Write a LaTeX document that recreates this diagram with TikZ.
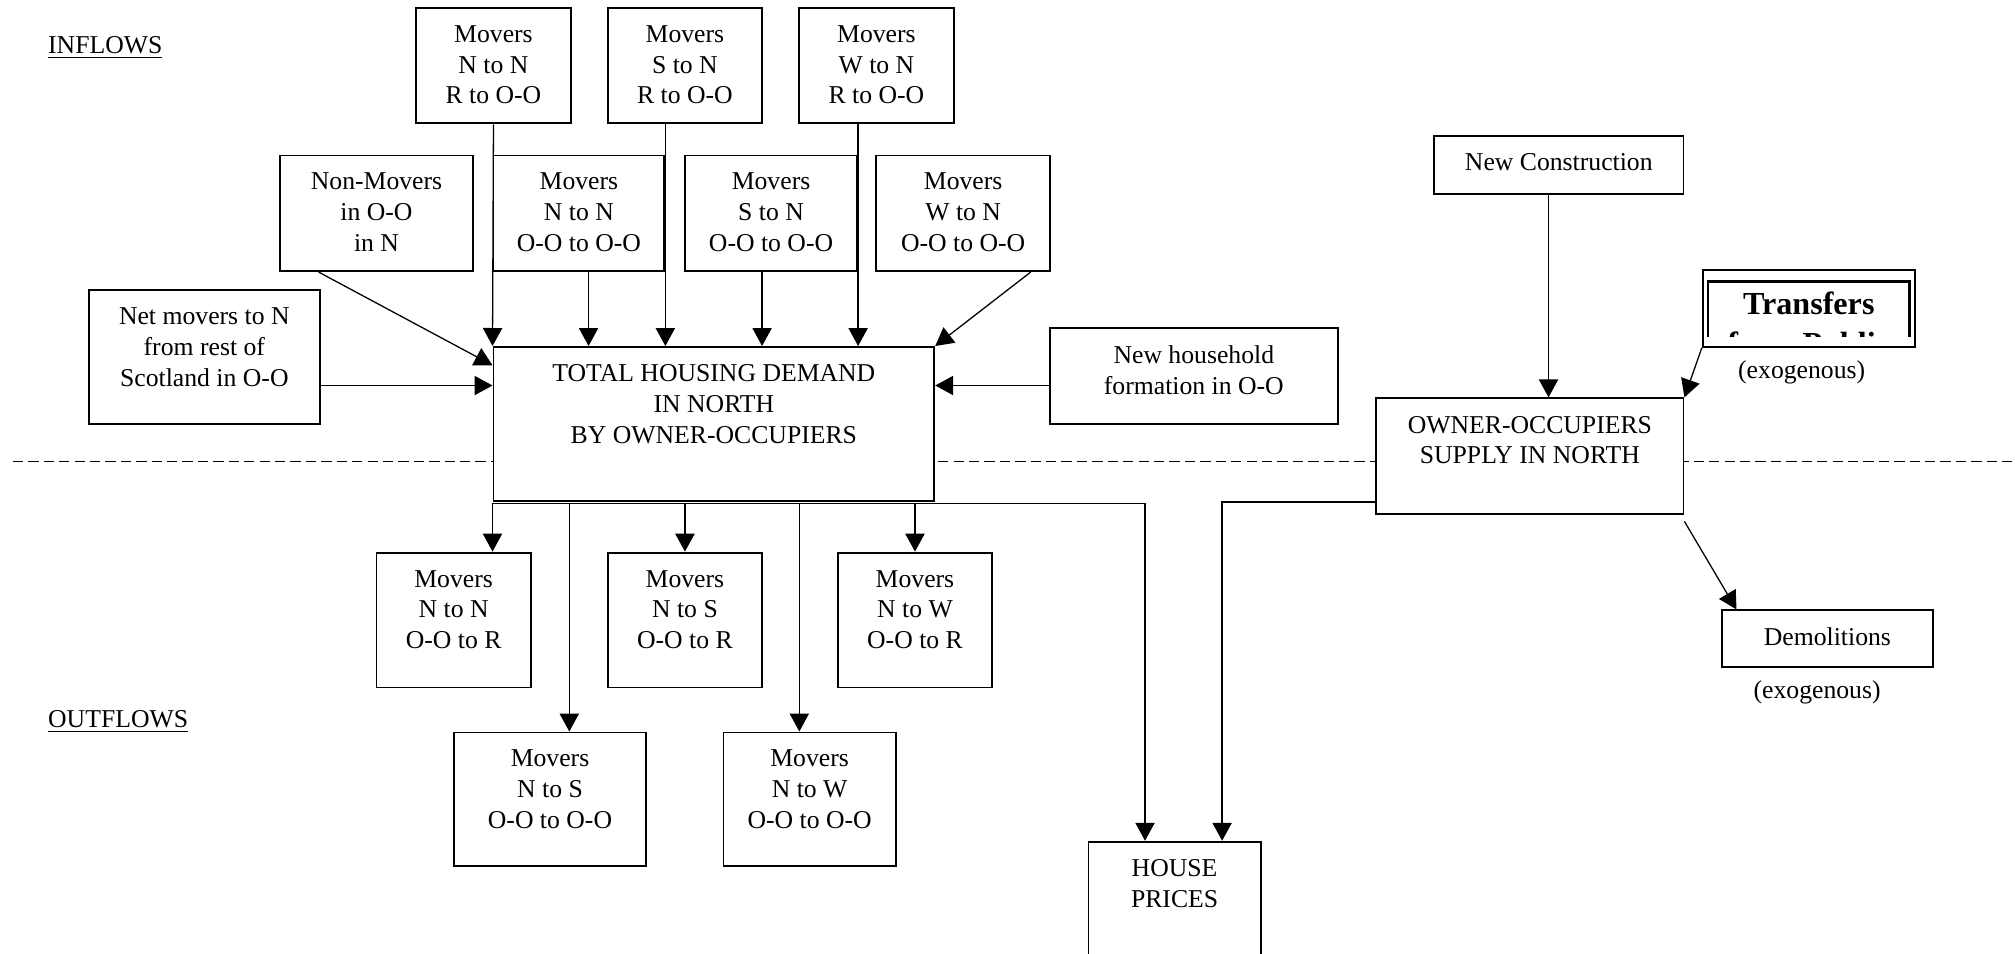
\documentclass[tikz,border=0pt]{standalone}
\usepackage{fontspec}
\setmainfont{Liberation Serif}
\usetikzlibrary{arrows.meta,positioning}

\begin{document}
\begin{tikzpicture}[x=0.5pt, y=-0.5pt, line width=0.5pt,
    >={Triangle[length=7pt,width=7.5pt]},
    box/.style={draw, fill=white, line width=0.75pt, inner sep=0pt},
    intext/.style={anchor=north, align=center, inner sep=0pt, yshift=-7pt}]
  \useasboundingbox (0,0) rectangle (1568,742);
  \clip (0,0) rectangle (1568,742);

  % dividing line between inflows and outflows
  \draw[dash pattern=on 4pt off 2pt] (10,359) -- (1566,359);

  \node[anchor=base west, inner sep=0pt] (inflows) at (37,41.5) {\underline{INFLOWS}};
  \node[anchor=base west, inner sep=0pt] (outflows) at (37,566.5) {\underline{OUTFLOWS}};

  % inflows
  \node[box, minimum width=60pt, minimum height=45pt, label={[intext]north:Movers\\N to N\\R to O-O}] (inNNr) at (384,51) {};
  \node[box, minimum width=60pt, minimum height=45pt, label={[intext]north:Movers\\S to N\\R to O-O}] (inSNr) at (533,51) {};
  \node[box, minimum width=60pt, minimum height=45pt, label={[intext]north:Movers\\W to N\\R to O-O}] (inWNr) at (682,51) {};

  \node[box, minimum width=75pt, minimum height=45pt, label={[intext]north:Non-Movers\\in O-O\\in N}] (nonmov) at (293,166) {};
  \node[box, minimum width=66.5pt, minimum height=45pt, label={[intext]north:Movers\\N to N\\O-O to O-O}] (inNNo) at (450.5,166) {};
  \node[box, minimum width=67pt, minimum height=45pt, label={[intext]north:Movers\\S to N\\O-O to O-O}] (inSNo) at (600,166) {};
  \node[box, minimum width=67.5pt, minimum height=45pt, label={[intext]north:Movers\\W to N\\O-O to O-O}] (inWNo) at (749.5,166) {};

  \node[box, minimum width=90pt, minimum height=52pt, label={[intext]north:Net movers to N\\from rest of\\Scotland in O-O}] (net) at (159,278) {};
  \node[box, minimum width=171.5pt, minimum height=60pt, label={[intext]north:TOTAL HOUSING DEMAND\\IN NORTH\\BY OWNER-OCCUPIERS}] (tot) at (555.5,330) {};
  \node[box, minimum width=112pt, minimum height=37.5pt, label={[intext]north:New household\\formation in O-O}] (newhh) at (929,292.5) {};

  % outflows
  \node[box, minimum width=60pt, minimum height=52.5pt, label={[intext]north:Movers\\N to N\\O-O to R}] (outNNr) at (353,482.5) {};
  \node[box, minimum width=60pt, minimum height=52.5pt, label={[intext]north:Movers\\N to S\\O-O to R}] (outNSr) at (533,482.5) {};
  \node[box, minimum width=60pt, minimum height=52.5pt, label={[intext]north:Movers\\N to W\\O-O to R}] (outNWr) at (712,482.5) {};
  \node[box, minimum width=75pt, minimum height=52pt, label={[intext]north:Movers\\N to S\\O-O to O-O}] (outNSo) at (428,622) {};
  \node[box, minimum width=67pt, minimum height=52pt, label={[intext]north:Movers\\N to W\\O-O to O-O}] (outNWo) at (630,622) {};

  \node[box, minimum width=67pt, minimum height=50pt, label={[intext]north:HOUSE\\PRICES}] (prices) at (914,705) {};

  % supply side
  \node[box, minimum width=97pt, minimum height=22.5pt, label={[intext]north:New Construction}] (newcon) at (1213,128.5) {};
  \node[box, minimum width=119.5pt, minimum height=45pt, label={[intext]north:OWNER-OCCUPIERS\\SUPPLY IN NORTH}] (supply) at (1190.5,355) {};
  \node[box, minimum width=82pt, minimum height=22pt, label={[intext]north:Demolitions}] (demol) at (1422,497) {};
  \node[below=1.5pt of demol, xshift=-4pt] (demolexo) {(exogenous)};

  \node[box, minimum width=82.5pt, minimum height=30pt] (transf) at (1407.5,240) {};
  \node[below=1.5pt of transf, xshift=-2.75pt] (transfexo) {(exogenous)};
  \begin{scope}
    \clip (1327,216) rectangle (1489,262);
    \draw[line width=0.9pt] (1329,262) |- (1486,219) -- (1486,262);
    \node[anchor=north, align=center, inner sep=0pt, font=\bfseries\fontsize{12.5}{15.5}\selectfont] (transftxt) at (1407.5,227) {Transfers\\from Public};
  \end{scope}

  % into total demand
  \path (inNNr.south)                 edge[->] (tot.north west)
        (inSNr.south -| inNNo.east)   edge[->] (inNNo.east |- tot.north)
        (inWNr.south -| inSNo.east)   edge[->] (inSNo.east |- tot.north)
        ([xshift=3.75pt]inNNo.south)  edge[->] ([xshift=3.75pt]inNNo.south |- tot.north)
        ([xshift=-3.5pt]inSNo.south)  edge[->] ([xshift=-3.5pt]inSNo.south |- tot.north)
        ([xshift=26.25pt]inWNo.south) edge[->] (tot.north east)
        ([xshift=-22.5pt]nonmov.south) edge[->] ([yshift=-7.5pt]tot.north west)
        ([yshift=-11pt]net.east)      edge[->] ([yshift=-11pt]net.east -| tot.west)
        ([yshift=-3.75pt]newhh.west)  edge[->] ([yshift=-3.75pt]newhh.west -| tot.east);

  % out of total demand
  \coordinate (bus) at ([yshift=-0.4pt]tot.south west);
  \draw[->] (bus) -| ([xshift=-11.5pt]prices.north);
  \path (bus)                           edge[->] (bus |- outNNr.north)
        ([xshift=7.5pt]outNSo.north |- bus) edge[->] ([xshift=7.5pt]outNSo.north)
        (outNSr.north |- bus)           edge[->] (outNSr.north)
        ([xshift=-4pt]outNWo.north |- bus) edge[->] ([xshift=-4pt]outNWo.north)
        (outNWr.north |- bus)           edge[->] (outNWr.north);

  % supply
  \path ([xshift=-4pt]newcon.south)     edge[->] ([xshift=-4pt]newcon.south |- supply.north)
        (transf.south west)             edge[->] (supply.north east)
        ([yshift=-2.5pt]supply.south east) edge[->] ([xshift=6pt]demol.north west);
  \draw[->] ([yshift=5pt]supply.south west) -| ([xshift=18.5pt]prices.north);
\end{tikzpicture}
\end{document}
